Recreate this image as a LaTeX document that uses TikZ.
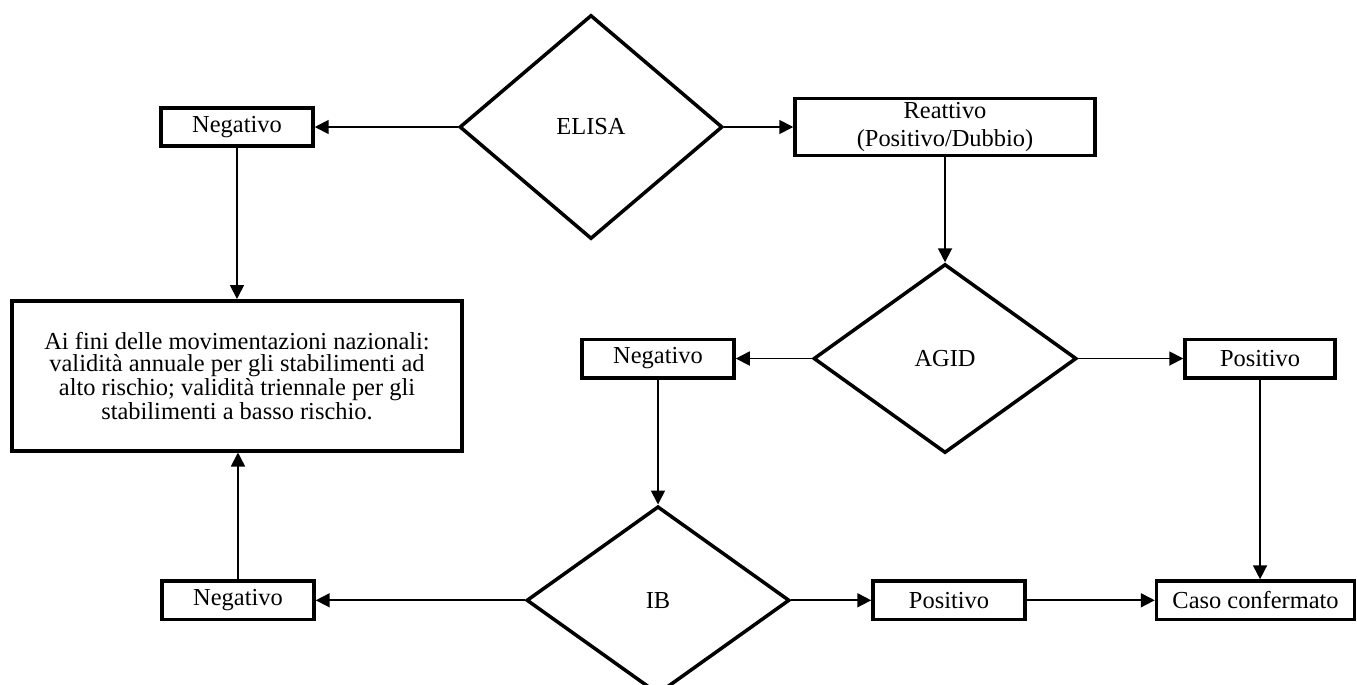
\documentclass[tikz,border=0pt]{standalone}
\usepackage{fontspec}
\setmainfont{Liberation Serif}
\usepackage{xcolor}
\definecolor{lineDark}{HTML}{000000}
\usepackage{tikz}
\usetikzlibrary{shapes,arrows,positioning,calc,arrows.meta,shapes.geometric}
\tikzset{%
  resultBox/.style={%
    rectangle,
    draw=lineDark,
    line width=2pt,
    fill=white,
    minimum width=3.04cm,
    minimum height=0.77cm,
    inner sep=2pt,
    align=center
  },
  testDiamond/.style={%
    diamond,
    draw=lineDark,
    line width=2pt,
    fill=white,
    minimum width=5.26cm,
    inner sep=0pt,
    align=center
  },
  arrowLine/.style={%
    -{Triangle[length=0.28cm,width=0.28cm]},
    line width=1pt,
    color=lineDark
  }
}

\begin{document}
\begin{tikzpicture}[
                node distance=2cm,
                every node/.style={font=\fontsize{13.9}{12.4}\selectfont}
            ]
            \useasboundingbox (0,0) rectangle (27.14,-13.68);

            \node[testDiamond, minimum height=4.48cm] (elisa) at (11.82,-2.54) {ELISA};
            \node[resultBox, left=2.86cm of elisa] (negElisa) {Negativo};
            \node[resultBox, right=1.38cm of elisa, minimum width=6cm, minimum height=1.14cm,
                  font=\fontsize{13.9}{15.4}\selectfont] (reattivo) {Reattivo\\(Positivo/Dubbio)};
            \node[resultBox, below=3.02cm of negElisa, minimum width=9cm, minimum height=3cm] (validita)
                {Ai fini delle movimentazioni nazionali:\\validità annuale per gli stabilimenti ad\\alto rischio; validità triennale per gli\\stabilimenti a basso rischio.};

            \node[testDiamond, minimum height=3.78cm, below=2.1cm of reattivo] (agid) {AGID};
            \node[resultBox, left=1.52cm of agid] (negAgid) {Negativo};
            \node[resultBox, right=2.1cm of agid, minimum width=3cm] (posAgid) {Positivo};

            \node[testDiamond, minimum height=3.76cm, below=2.5cm of negAgid] (ib) {IB};
            \node[resultBox, left=4.18cm of ib] (negIb) {Negativo};
            \node[resultBox, right=1.6cm of ib] (posIb) {Positivo};
            \node[resultBox, right=2.56cm of posIb, minimum width=3.96cm] (caso) {Caso confermato};

            % connectors
            \draw[arrowLine] (elisa) -- (negElisa);
            \draw[arrowLine] (elisa) -- (reattivo);
            \draw[arrowLine] (negElisa) -- (negElisa |- validita.north);
            \draw[arrowLine] (reattivo) -- (agid);
            \draw[arrowLine] (agid) -- (negAgid);
            \draw[arrowLine] (agid) -- (posAgid);
            \draw[arrowLine] (negAgid) -- (ib);
            \draw[arrowLine] (posAgid) -- (posAgid |- caso.north);
            \draw[arrowLine] (ib) -- (negIb);
            \draw[arrowLine] (ib) -- (posIb);
            \draw[arrowLine] (posIb) -- (caso);
            \draw[arrowLine] (negIb) -- (negIb |- validita.south);
        \end{tikzpicture}
\end{document}
